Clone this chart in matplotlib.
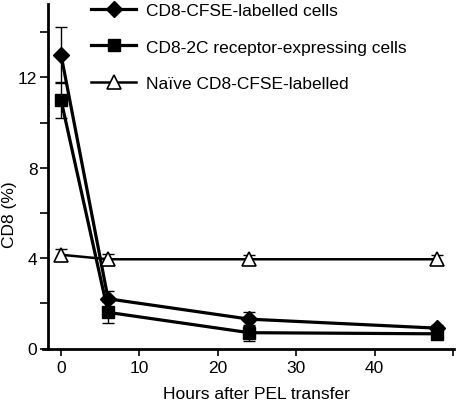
import matplotlib
matplotlib.use("Agg")
import matplotlib.pyplot as plt
from matplotlib.ticker import MultipleLocator

plt.rcParams['font.family'] = ['Liberation Sans', 'DejaVu Sans']

hours = [0, 6, 24, 48]
cfse = [13.0, 2.2, 1.3, 0.9]
cfse_err = [1.25, 0.35, 0.3, 0.12]
rec2c = [11.0, 1.6, 0.7, 0.65]
rec2c_err = [0.8, 0.45, 0.35, 0.12]
naive = [4.15, 3.95, 3.95, 3.95]
naive_err = [0.25, 0.25, 0.2, 0.2]
labels = ['CD8-CFSE-labelled cells', 'CD8-2C receptor-expressing cells', 'Naïve CD8-CFSE-labelled']

FS = 12.5
fig = plt.figure(figsize=(4.57, 4.02), dpi=100)
ax = fig.add_axes([43/457, 1-349.5/402, (453.5-43)/457, (349.5-5)/402])

ekw = dict(fmt='none', ecolor='black', elinewidth=1.0, capsize=4, capthick=1.0)
ax.errorbar(hours, cfse, yerr=cfse_err, **ekw)
ax.errorbar(hours, rec2c, yerr=rec2c_err, **ekw)
ax.errorbar(hours, naive, yerr=naive_err, **ekw)

ax.plot(hours, cfse, color='black', lw=2.3, marker='D', ms=8.5,
        mfc='black', mec='black', label=labels[0])
ax.plot(hours, rec2c, color='black', lw=2.3, marker='s', ms=8.5,
        mfc='black', mec='black', label=labels[1])
ax.plot(hours, naive, color='black', lw=1.8, marker='^', ms=9.5,
        mfc='white', mec='black', mew=1.2, label=labels[2])

ax.set_xlim(-2.3, 50.05)
ax.set_ylim(0, 15.25)
ax.spines['left'].set_position(('data', -1.6))
for s in ['top', 'right']:
    ax.spines[s].set_visible(False)
for s in ['left', 'bottom']:
    ax.spines[s].set_linewidth(2)

ax.yaxis.set_major_locator(MultipleLocator(4))
ax.yaxis.set_minor_locator(MultipleLocator(2))
ax.set_xticks([0, 10, 20, 30, 40, 50])
ax.set_xticklabels(['0', '10', '20', '30', '40', ''])
ax.tick_params(axis='both', which='both', direction='out', width=1.2, labelsize=FS, colors='black')
ax.tick_params(axis='y', which='both', length=6, pad=2)
ax.tick_params(axis='x', which='both', length=5, pad=3)

ax.set_xlabel('Hours after PEL transfer', fontsize=FS)
ax.set_ylabel('CD8 (%)', fontsize=FS)
ax.xaxis.set_label_coords(0.519, -0.108)
ax.yaxis.set_label_coords(-0.063, 0.39)

leg = ax.legend(loc='upper left', bbox_to_anchor=(0.083, 1.044), frameon=False,
                fontsize=FS, handlelength=2.6, labelspacing=1.24, handletextpad=0.55,
                borderpad=0.3)

fig.savefig('out.png', dpi=100)
